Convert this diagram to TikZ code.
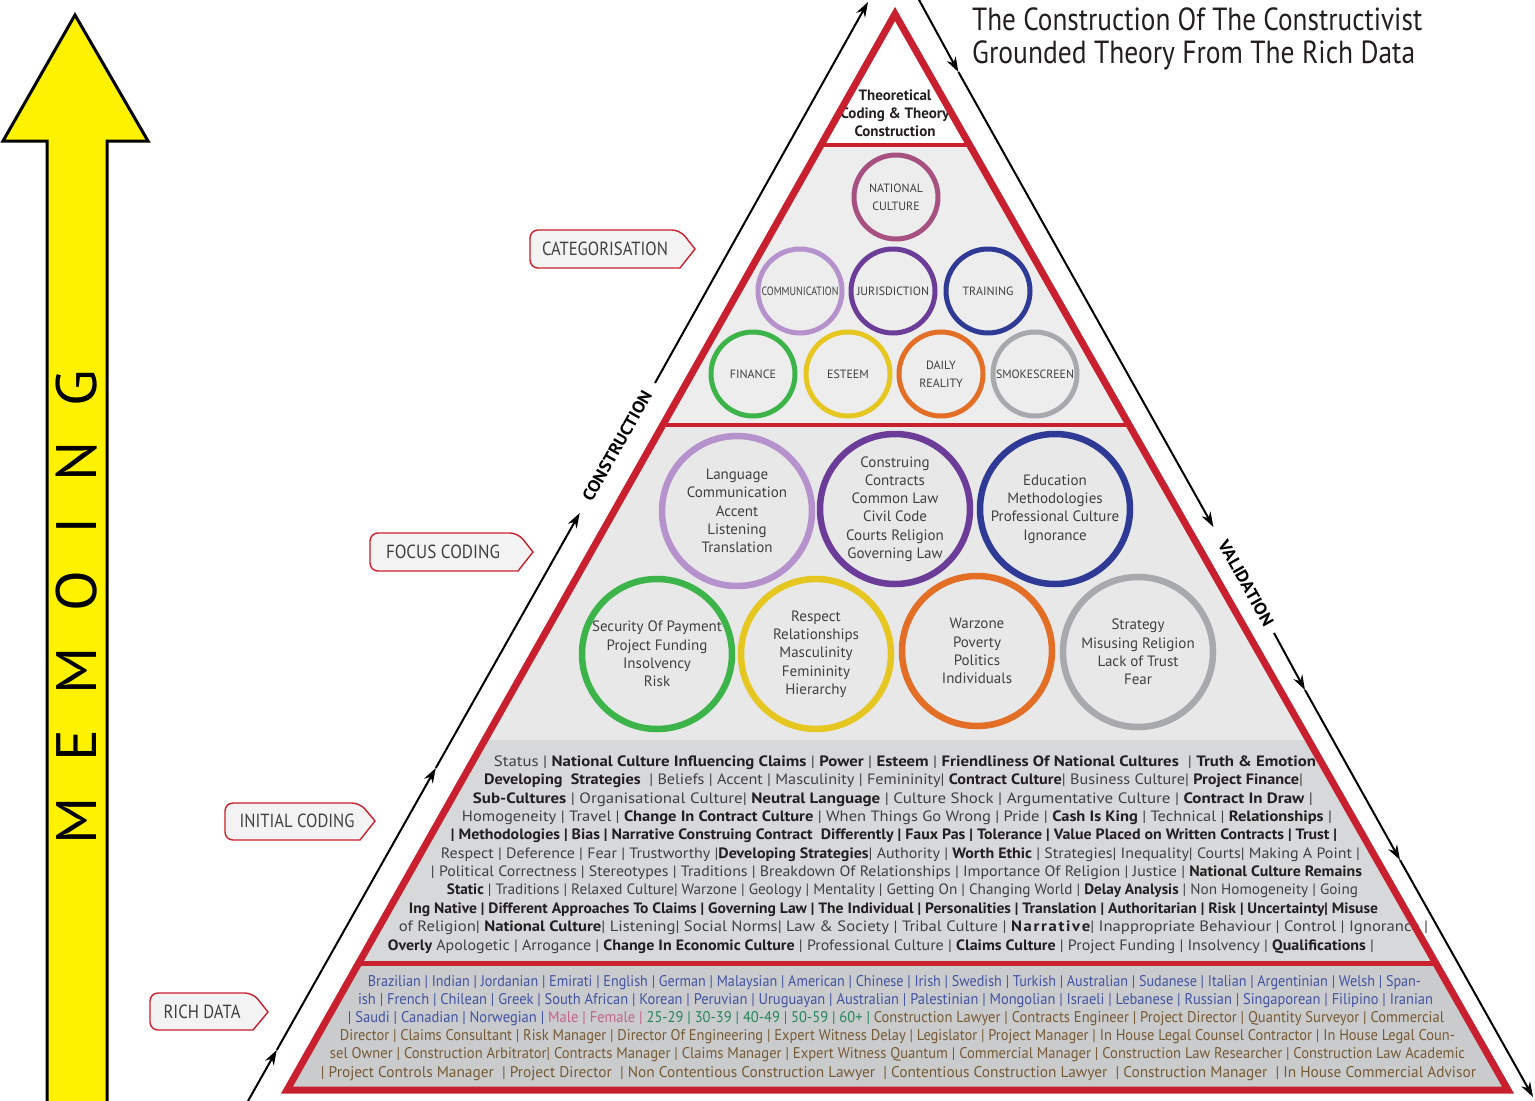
\documentclass[tikz,border=0pt]{standalone}
\usepackage{fontspec}
\setmainfont{PT Sans}
\usepackage{graphicx}
\usetikzlibrary{arrows.meta}

\definecolor{pyrred}{HTML}{C8202F}
\definecolor{bandA}{HTML}{EDEDEE}
\definecolor{bandB}{HTML}{E8E8E9}
\definecolor{bandC}{HTML}{D6D8DA}
\definecolor{bandD}{HTML}{CACBCD}
\definecolor{memoyellow}{HTML}{FFF200}
\definecolor{cplum}{HTML}{A6517F}
\definecolor{clilac}{HTML}{B592CC}
\definecolor{cviolet}{HTML}{6B3C98}
\definecolor{cnavy}{HTML}{2E3A96}
\definecolor{cgreen}{HTML}{3DB449}
\definecolor{cyellow}{HTML}{E6C722}
\definecolor{corange}{HTML}{E36F26}
\definecolor{cgrey}{HTML}{A7A9AC}
\definecolor{txtgrey}{HTML}{404040}
\definecolor{txtdark}{HTML}{231F20}
\definecolor{rdblue}{HTML}{4352A3}
\definecolor{rdpink}{HTML}{C3648E}
\definecolor{rdgreen}{HTML}{24875A}
\definecolor{rdbrown}{HTML}{765A33}
\definecolor{lblfill}{HTML}{F3F3F3}

% squeeze or stretch a line horizontally to a given width (in pt)
\newcommand{\fitw}[2]{\resizebox{#1pt}{\height}{#2}}
\newcommand{\icb}[1]{{\bfseries\color{txtdark}#1}}

\begin{document}
\begin{tikzpicture}[x=1pt,y=-1pt,
  catcirc/.style={circle,draw=#1,line width=5pt,minimum size=84pt,inner sep=0pt,
    align=center,text=txtgrey,font=\fontsize{12}{18}\selectfont},
  foccirc/.style={circle,draw=#1,line width=6.5pt,minimum size=150pt,inner sep=0pt,
    align=center,text=txtgrey,font=\fontsize{15}{18.3}\selectfont},
  icline/.style={anchor=base,inner sep=0pt,text=txtgrey,font=\fontsize{15}{17}\selectfont},
  rdline/.style={anchor=base,inner sep=0pt,font=\fontsize{15.5}{17}\selectfont},
  lblbox/.style={draw=pyrred,line width=1.4pt,fill=lblfill},
  lbltext/.style={inner sep=0pt,text=txtgrey,font=\fontsize{19}{22}\selectfont},
  flowarrow/.style={black,line width=2pt,-{Stealth[length=15pt,width=10pt]}},
  sidetext/.style={inner sep=0pt,font=\fontsize{17}{18}\bfseries\selectfont},
]
\useasboundingbox (0,0) rectangle (1535,1101);
\fill[white] (0,0) rectangle (1535,1101);

% ---------- memoing arrow ----------
\draw[line width=3pt,fill=memoyellow,line join=miter]
  (47,1115) -- (47,141) -- (3,141) -- (75,15) -- (148,141) -- (107,141) -- (107,1115);
\node[inner sep=0pt,rotate=90,font=\fontsize{57}{60}\selectfont] (memo) at (77,607)
  {\fitw{475}{M\hspace{34pt}E\hspace{34pt}M\hspace{34pt}O\hspace{34pt}I\hspace{34pt}N\hspace{34pt}G}};

% ---------- title ----------
\node[anchor=base west,inner sep=0pt,text=txtdark,font=\fontsize{32}{34}\selectfont] (title1) at (972,30)
  {\fitw{450}{The Construction Of The Constructivist}};
\node[anchor=base west,inner sep=0pt,text=txtdark,font=\fontsize{32}{34}\selectfont] (title2) at (972,63)
  {\fitw{443}{Grounded Theory From The Rich Data}};

% ---------- pyramid bands ----------
\coordinate (apex) at (895,14);
\coordinate (bl) at (287,1090);
\coordinate (br) at (1508,1090);
\begin{scope}
  \clip (apex) -- (bl) -- (br) -- cycle;
  \fill[white] (0,0) rectangle (1535,145);
  \fill[bandA] (0,145) rectangle (1535,425);
  \fill[bandB] (0,425) rectangle (1535,740);
  \fill[bandC] (0,740) rectangle (1535,963);
  \fill[bandD] (0,963) rectangle (1535,1101);
\end{scope}

% ---------- theoretical coding ----------
\node[align=center,inner sep=0pt,text=txtdark,font=\fontsize{15}{18}\bfseries\selectfont] (theory) at (895,113)
  {Theoretical\\Coding \& Theory\\Construction};

% ---------- categorisation circles ----------
\node[catcirc=cplum]   (natcult) at (896,197) {NATIONAL\\CULTURE};
\node[catcirc=clilac]  (comm)    at (800,291) {\fitw{77}{COMMUNICATION}};
\node[catcirc=cviolet] (juris)   at (893,291) {\fitw{72}{JURISDICTION}};
\node[catcirc=cnavy]   (train)   at (988,291) {TRAINING};
\node[catcirc=cgreen]  (fin)     at (753,374) {FINANCE};
\node[catcirc=cyellow] (esteem)  at (848,374) {ESTEEM};
\node[catcirc=corange] (daily)   at (941,374) {DAILY\\REALITY};
\node[catcirc=cgrey]   (smoke)   at (1035,374) {\fitw{78}{SMOKESCREEN}};

% ---------- focus coding circles ----------
\node[foccirc=clilac]  (lang)   at (737,511) {Language\\Communication\\Accent\\Listening\\Translation};
\node[foccirc=cviolet] (constr) at (895,509) {Construing\\Contracts\\Common Law\\Civil Code\\Courts Religion\\Governing Law};
\node[foccirc=cnavy]   (educ)   at (1055,509) {Education\\Methodologies\\Professional Culture\\Ignorance};
\node[foccirc=cgreen]  (secur)  at (657,654) {Security Of Payment\\Project Funding\\Insolvency\\Risk};
\node[foccirc=cyellow] (respe)  at (816,654) {Respect\\Relationships\\Masculinity\\Femininity\\Hierarchy};
\node[foccirc=corange] (warz)   at (977,651) {Warzone\\Poverty\\Politics\\Individuals};
\node[foccirc=cgrey]   (strat)  at (1138,652) {Strategy\\Misusing Religion\\Lack of Trust\\Fear};

% ---------- initial coding ----------
\node[icline] (ic1) at (905,766) {\fitw{822}{Status | \icb{National Culture Influencing Claims} | \icb{Power} | \icb{Esteem} | \icb{Friendliness Of National Cultures} \ | \icb{Truth \& Emotion}}};
\node[icline] (ic2) at (893.5,784) {\fitw{819}{\icb{Developing\ \ Strategies} \ | Beliefs | Accent | Masculinity | Femininity| \icb{Contract Culture}| Business Culture| \icb{Project Finance}|}};
\node[icline] (ic3) at (893,803) {\fitw{840}{\icb{Sub-Cultures} | Organisational Culture| \icb{Neutral Language} | Culture Shock | Argumentative Culture | \icb{Contract In Draw} |}};
\node[icline] (ic4) at (897,821) {\fitw{870}{Homogeneity | Travel | \icb{Change In Contract Culture} | When Things Go Wrong | Pride | \icb{Cash Is King} | Technical | \icb{Relationships} |}};
\node[icline] (ic5) at (894,839) {\fitw{886}{\icb{| Methodologies | Bias | Narrative Construing Contract\ \ Differently | Faux Pas | Tolerance | Value Placed on Written Contracts | Trust |}}};
\node[icline] (ic6) at (900.5,858) {\fitw{919}{Respect | Deference | Fear | Trustworthy |\icb{Developing Strategies}| Authority | \icb{Worth Ethic} | Strategies| Inequality| Courts| Making A Point |}};
\node[icline] (ic7) at (896.5,876) {\fitw{931}{| Political Correctness | Stereotypes | Traditions | Breakdown Of Relationships | Importance Of Religion | Justice | \icb{National Culture Remains}}};
\node[icline] (ic8) at (902.5,894) {\fitw{911}{\icb{Static} | Traditions | Relaxed Culture| Warzone | Geology | Mentality | Getting On | Changing World | \icb{Delay Analysis} | Non Homogeneity | Going}};
\node[icline] (ic9) at (893.5,913) {\fitw{969}{\icb{Ing Native | Different Approaches To Claims | Governing Law | The Individual | Personalities | Translation | Authoritarian | Risk | Uncertainty| Misuse}}};
\node[icline] (ic10) at (913.5,931) {\fitw{1029}{of Religion| \icb{National Culture}| Listening| Social Norms| Law \& Society | Tribal Culture | \icb{N\kern1.5pt a\kern1.5pt r\kern1.5pt r\kern1.5pt a\kern1.5pt t\kern1.5pt i\kern1.5pt v\kern1.5pt e}| Inappropriate Behaviour | Control | Ignorance |}};
\node[icline] (ic11) at (881,950) {\fitw{986}{\icb{Overly} Apologetic | Arrogance | \icb{Change In Economic Culture} | Professional Culture | \icb{Claims Culture} | Project Funding | Insolvency | \icb{Qualifications} |}};

% ---------- rich data ----------
\node[rdline,text=rdblue] (rd1) at (894.5,986) {\fitw{1053}{Brazilian | Indian | Jordanian | Emirati | English | German | Malaysian | American | Chinese | Irish | Swedish | Turkish | Australian | Sudanese | Italian | Argentinian | Welsh | Span-}};
\node[rdline,text=rdblue] (rd2) at (895.5,1004) {\fitw{1075}{ish | French | Chilean | Greek | South African | Korean | Peruvian | Uruguayan | Australian | Palestinian | Mongolian | Israeli | Lebanese | Russian | Singaporean | Filipino | Iranian}};
\node[rdline] (rd3) at (896,1022) {\fitw{1096}{\textcolor{rdblue}{| Saudi | Canadian | Norwegian |} \textcolor{rdpink}{Male | Female |} \textcolor{rdgreen}{25-29 | 30-39 | 40-49 | 50-59 | 60+ |} \textcolor{rdbrown}{Construction Lawyer | Contracts Engineer | Project Director | Quantity Surveyor | Commercial}}};
\node[rdline,text=rdbrown] (rd4) at (897.5,1040) {\fitw{1115}{Director | Claims Consultant | Risk Manager | Director Of Engineering | Expert Witness Delay | Legislator | Project Manager | In House Legal Counsel Contractor | In House Legal Coun-}};
\node[rdline,text=rdbrown] (rd5) at (897.5,1058) {\fitw{1135}{sel Owner | Construction Arbitrator| Contracts Manager | Claims Manager | Expert Witness Quantum | Commercial Manager | Construction Law Researcher | Construction Law Academic}};
\node[rdline,text=rdbrown] (rd6) at (898.5,1077) {\fitw{1155}{| Project Controls Manager \ | Project Director \ | Non Contentious Construction Lawyer \ | Contentious Construction Lawyer \ | Construction Manager \ | In House Commercial Advisor}};

% ---------- red dividers and outline ----------
\begin{scope}
  \clip (apex) -- (bl) -- (br) -- cycle;
  \draw[pyrred,line width=4pt] (0,145) -- (1535,145);
  \draw[pyrred,line width=4pt] (0,425) -- (1535,425);
  \draw[pyrred,line width=5pt] (0,963) -- (1535,963);
\end{scope}
\draw[pyrred,line width=7pt,line join=miter] (apex) -- (bl) -- (br) -- cycle;

% ---------- construction flow (left side) ----------
\coordinate (c0) at (248,1101);
\coordinate (c1) at (276.8,1050);
\coordinate (c2) at (435.8,768);
\coordinate (c3) at (579.7,513);
\coordinate (c4) at (655,383);
\coordinate (c5) at (868,2);
\draw[flowarrow] (c0) -- (c1);
\draw[flowarrow] (c1) -- (c2);
\draw[flowarrow] (c2) -- (c3);
\draw[flowarrow] (c4) -- (c5);
\node[sidetext,rotate=60.6] (constrlbl) at (617,446) {\fitw{124}{CONSTRUCTION}};

% ---------- validation flow (right side) ----------
\coordinate (v0) at (918,-2);
\coordinate (v1) at (958.4,72);
\coordinate (v2) at (1213.4,527);
\coordinate (v3) at (1274,633);
\coordinate (v4) at (1305,690);
\coordinate (v5) at (1400,860);
\coordinate (v6) at (1533,1097);
\draw[flowarrow] (v0) -- (v1);
\draw[flowarrow] (v1) -- (v2);
\draw[flowarrow] (v3) -- (v4);
\draw[flowarrow] (v4) -- (v5);
\draw[flowarrow] (v5) -- (v6);
\node[sidetext,rotate=-60.7] (validlbl) at (1246,583) {\fitw{96}{VALIDATION}};

% ---------- stage labels ----------
\draw[lblbox] (530,249) [rounded corners=8pt] -- (530,230) -- (680,230) [sharp corners] -- (695,249) -- (680,268) [rounded corners=8pt] -- (530,268) -- cycle;
\node[lbltext] (lblcat) at (605,249) {\fitw{126}{CATEGORISATION}};
\draw[lblbox] (370,552) [rounded corners=8pt] -- (370,533) -- (518,533) [sharp corners] -- (533,552) -- (518,571) [rounded corners=8pt] -- (370,571) -- cycle;
\node[lbltext] (lblfoc) at (443,552) {\fitw{114}{FOCUS CODING}};
\draw[lblbox] (225,821) [rounded corners=8pt] -- (225,803) -- (360,803) [sharp corners] -- (375,821) -- (360,840) [rounded corners=8pt] -- (225,840) -- cycle;
\node[lbltext] (lblini) at (297,821) {\fitw{115}{INITIAL CODING}};
\draw[lblbox] (150,1012) [rounded corners=8pt] -- (150,993) -- (253,993) [sharp corners] -- (268,1012) -- (253,1030) [rounded corners=8pt] -- (150,1030) -- cycle;
\node[lbltext] (lblrich) at (202,1012) {\fitw{77}{RICH DATA}};
\end{tikzpicture}
\end{document}
